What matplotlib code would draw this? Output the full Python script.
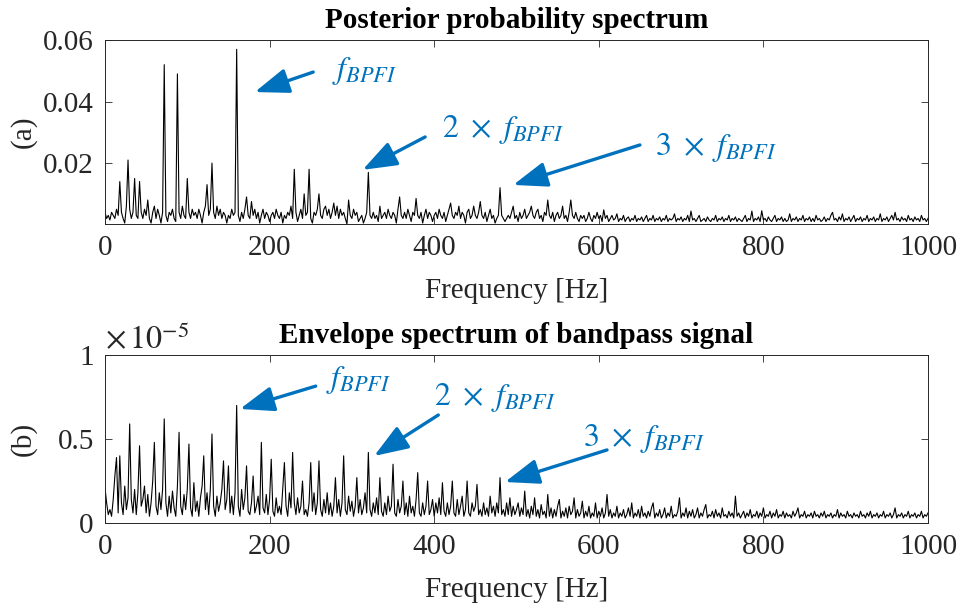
import numpy as np
import matplotlib.pyplot as plt
from matplotlib.ticker import FuncFormatter

# spectra, 2 Hz steps from 0 to 1000 Hz
freq_step = 2.0

# posterior probability spectrum, in units of 1e-3
posterior_milli = [
    4, 2, 3, 1.5, 4, 3, 2, 5, 3, 14,
    4, 2, 0.5, 6, 21, 5, 2, 4, 15, 3,
    2, 14, 4, 2, 5, 3, 8, 2, 0.5, 4,
    6, 2, 5, 3, 0.5, 4, 52, 3, 1, 4,
    3, 5, 2, 1, 49, 4, 2, 6, 3, 2,
    15, 4, 2, 5, 3, 4, 2, 5, 3, 0.5,
    4, 6, 13, 3, 5, 20, 4, 2, 6, 3,
    5, 2, 4, 3, 0.5, 3, 2, 5, 3, 4,
    57, 3, 1, 4, 2, 5, 9, 3, 2, 7.5,
    3, 5, 2, 4, 0.5, 3, 5, 2, 4, 3,
    1, 3, 4, 2, 5, 3, 2, 4, 0.5, 3,
    2, 4, 3, 6, 2, 18, 4, 1, 3, 5,
    2, 10, 3, 4, 18, 2, 0.5, 4, 3, 5,
    10, 3, 2, 5, 6, 3, 5, 2, 4, 7,
    3, 6, 2, 5, 3, 4, 2, 0.2, 8, 3,
    2, 5, 3, 4, 1, 2, 3, 0.5, 2, 4,
    17, 3, 2, 4, 2, 3, 1, 6, 2, 3,
    4, 2, 5, 3, 2, 4, 3, 0.5, 5, 9,
    3, 2, 4, 2, 5, 3, 1, 4, 3, 8.5,
    3, 2, 4, 0.5, 3, 5, 2, 4, 3, 1,
    3, 4, 2, 5, 3, 2, 4, 1, 3, 5,
    7, 3, 2, 4, 3, 6, 2, 4, 3, 0.5,
    4, 5, 2, 3, 6, 3, 2, 4, 7.5, 3,
    2, 4, 1, 3, 5, 2, 3, 0.5, 2, 3,
    12, 3, 2, 1, 2, 3, 2, 4, 6, 2,
    3, 1, 4, 2, 3, 5, 2, 3, 4, 6,
    3, 2, 4, 5, 2, 3, 1, 4, 3, 8,
    3, 2, 4, 1, 3, 4, 2, 3, 6, 2,
    3, 1, 4, 8, 3, 2, 4, 2, 1, 3,
    2, 3, 1, 2, 4, 2, 1, 3, 2, 4,
    2, 3, 1, 4.8, 2, 3, 1, 2, 3, 1.5,
    2, 3.5, 1, 2, 1.5, 3, 1, 2, 2.5, 1,
    2, 1.5, 3, 1, 2, 1.5, 2.5, 1, 2, 3,
    1, 2, 1.5, 3, 1, 2, 1.5, 2.5, 1, 2,
    1.5, 3, 1, 2, 1.5, 2, 3.5, 1, 2, 1.5,
    2.5, 1, 2, 1.5, 3, 1, 4.4, 1.5, 2, 1,
    2, 3, 1, 1.5, 2, 1, 2.5, 1.5, 1, 2,
    1.5, 3, 1, 2, 1.5, 2.5, 1, 2, 1.5, 3,
    1, 2, 1.5, 2.5, 1, 2, 1.5, 1, 2, 3,
    1, 2, 1.5, 4.4, 1, 2, 1.5, 2.5, 1, 4.5,
    1.5, 2, 1, 2.5, 1.5, 1, 2, 3, 1, 2,
    1.5, 2.5, 1, 2, 1, 1.5, 3.5, 1, 2, 1.5,
    2.5, 1, 2, 1.5, 3, 1, 2, 1.5, 2.5, 1,
    2, 1, 3, 1.5, 2, 1, 1.5, 2.5, 1, 2,
    1.5, 3, 4, 1.5, 2, 1, 2.5, 1.5, 3.5, 1,
    2, 1.5, 2.5, 1, 2, 3, 1, 2, 1.5, 2.5,
    1, 2, 1.5, 3, 1, 2, 1.5, 2.5, 1, 2,
    1.5, 3.5, 1, 2, 1.5, 2.5, 1, 2, 3, 1.5,
    4, 1.5, 2, 1, 2.5, 1.5, 2, 1, 3, 1.5,
    2, 1, 2.5, 1.5, 2, 1, 3, 1.5, 2, 1,
    2,
]

# envelope spectrum of the bandpass signal, in units of 1e-7
envelope_e7 = [
    21, 12, 5, 8, 4, 14, 28, 39, 6, 40,
    12, 5, 22, 8, 15, 59, 14, 6, 20, 5,
    18, 46, 10, 14, 22, 6, 17, 4, 12, 25,
    48, 10, 5, 18, 8, 20, 62, 12, 4, 16,
    6, 19, 9, 4, 22, 54, 10, 5, 17, 8,
    20, 47, 9, 4, 24, 7, 13, 4, 15, 22,
    40, 8, 18, 5, 20, 53, 10, 4, 16, 7,
    12, 20, 37, 8, 14, 34, 6, 16, 5, 18,
    70, 10, 4, 20, 8, 15, 34, 7, 5, 12,
    28, 6, 10, 16, 5, 48, 9, 6, 17, 5,
    14, 38, 7, 4, 15, 6, 10, 5, 20, 36,
    10, 4, 18, 9, 42, 12, 5, 15, 6, 10,
    25, 5, 8, 4, 12, 36, 7, 18, 5, 12,
    37, 8, 4, 14, 6, 18, 5, 12, 4, 10,
    27, 6, 14, 4, 12, 40, 8, 5, 16, 7,
    13, 4, 10, 27, 6, 14, 5, 9, 18, 6,
    42, 8, 4, 12, 6, 15, 5, 27, 7, 4,
    12, 5, 16, 7, 10, 35, 6, 4, 14, 6,
    10, 25, 5, 12, 4, 16, 6, 10, 4, 14,
    30, 6, 4, 12, 5, 10, 25, 5, 8, 14,
    4, 12, 6, 15, 5, 24, 7, 4, 12, 5,
    10, 25, 6, 4, 14, 5, 10, 16, 4, 8,
    25, 6, 4, 12, 7, 10, 23, 5, 8, 4,
    12, 5, 9, 4, 16, 6, 10, 4, 12, 6,
    27, 5, 8, 4, 12, 5, 15, 4, 10, 5,
    8, 12, 4, 9, 5, 19, 4, 8, 3, 10,
    5, 15, 4, 8, 3, 11, 5, 7, 3, 17,
    4, 9, 3, 8, 4, 10, 14, 3, 7, 4,
    9, 3, 10, 5, 7, 15, 3, 8, 4, 6,
    13, 3, 7, 4, 10, 3, 6, 4, 12, 3,
    7, 4, 9, 3, 6, 17, 4, 8, 3, 6,
    4, 10, 3, 6, 4, 8, 3, 5, 9, 4,
    12, 3, 6, 4, 8, 3, 10, 4, 6, 3,
    7, 4, 9, 12, 3, 6, 4, 8, 3, 5,
    9, 3, 6, 4, 10, 3, 5, 4, 7, 15,
    3, 6, 4, 9, 3, 7, 4, 8, 3, 5,
    9, 3, 6, 4, 8, 11, 3, 5, 4, 7,
    3, 8, 4, 6, 3, 9, 4, 5, 3, 7,
    4, 6, 3, 16, 4, 6, 3, 5, 7, 3,
    6, 4, 8, 3, 5, 4, 7, 3, 6, 4,
    9, 3, 5, 4, 7, 3, 6, 4, 8, 3,
    5, 4, 7, 3, 6, 4, 5, 3, 7, 4,
    6, 9, 3, 5, 4, 7, 3, 5, 4, 6,
    3, 7, 4, 5, 3, 6, 4, 7, 3, 5,
    4, 6, 3, 5, 4, 8, 3, 6, 4, 5,
    3, 7, 4, 5, 3, 6, 4, 5, 3, 7,
    4, 5, 3, 6, 4, 7, 3, 5, 4, 6,
    3, 5, 4, 7, 3, 5, 4, 6, 3, 5,
    9, 3, 5, 4, 6, 3, 5, 4, 7, 3,
    5, 4, 6, 3, 5, 4, 7, 3, 5, 4,
    6,
]

# annotation labels and where they sit: (text, text_xy, arrow_tail, arrow_head)
top_notes = [
    (r'$f_{BPFI}$', (276, 0.0500), (253, 0.0496), (182, 0.0431)),
    (r'$2\ \times\ f_{BPFI}$', (410, 0.0310), (389, 0.0285), (313, 0.0178)),
    (r'$3\ \times\ f_{BPFI}$', (668, 0.0250), (650, 0.0259), (496, 0.0129)),
]
bottom_notes = [
    (r'$f_{BPFI}$', (268, 0.850e-5), (256, 0.815e-5), (164, 0.679e-5)),
    (r'$2\ \times\ f_{BPFI}$', (400, 0.745e-5), (405, 0.643e-5), (327, 0.399e-5)),
    (r'$3\ \times\ f_{BPFI}$', (581, 0.505e-5), (610, 0.435e-5), (486, 0.244e-5)),
]

blue = '#0072BD'
axis_grey = '#262626'
font_size = 21

plt.rcParams['font.family'] = ['Liberation Serif', 'DejaVu Serif']
plt.rcParams['mathtext.fontset'] = 'stix'


def style_axes(ax, panel):
    ax.tick_params(direction='in', top=True, right=True, length=5,
                   width=0.6, colors=axis_grey, labelsize=font_size, pad=8)
    for sp in ax.spines.values():
        sp.set_color(axis_grey)
        sp.set_linewidth(0.7)
    ax.set_xlim(0, 1000)
    ax.set_xticks([0, 200, 400, 600, 800, 1000])
    ax.set_xlabel('Frequency [Hz]', fontsize=font_size, color=axis_grey,
                  labelpad=12)
    ax.set_ylabel(panel, fontsize=font_size, color=axis_grey)
    ax.yaxis.set_label_coords(-0.083, 0.5)


def add_notes(ax, notes):
    for label, txy, tail, head in notes:
        ax.annotate('', xy=head, xytext=tail,
                    arrowprops=dict(arrowstyle='-|>,head_length=0.95,head_width=0.35',
                                    color=blue, lw=2.4, shrinkA=0, shrinkB=0,
                                    mutation_scale=22))
        ax.text(txy[0], txy[1], label, color=blue, fontsize=23,
                ha='left', va='center')


freqs = np.arange(len(posterior_milli)) * freq_step
posterior = np.array(posterior_milli) * 1e-3
envelope = np.array(envelope_e7) * 1e-7

fig = plt.figure(figsize=(9.57, 6.13), dpi=100)
ax1 = fig.add_axes([0.1097, 0.6346, 0.860, 0.300])
ax2 = fig.add_axes([0.1097, 0.1468, 0.860, 0.274])

ax1.plot(freqs, posterior, color='k', lw=0.8)
style_axes(ax1, '(a)')
ax1.set_ylim(posterior.min(), 0.06)
ax1.set_yticks([0.02, 0.04, 0.06])
ax1.set_yticklabels(['0.02', '0.04', '0.06'])
ax1.set_title('Posterior probability spectrum', fontsize=font_size,
              fontweight='bold', pad=9)
add_notes(ax1, top_notes)

ax2.plot(freqs, envelope, color='k', lw=0.8)
style_axes(ax2, '(b)')
ax2.set_ylim(0, 1e-5)
ax2.set_yticks([0, 0.5e-5, 1e-5])
ax2.yaxis.set_major_formatter(FuncFormatter(lambda v, pos: f'{v * 1e5:g}'))
ax2.set_title('Envelope spectrum of bandpass signal', fontsize=font_size,
              fontweight='bold', pad=9)
ax2.text(0, 1.0, r'$\times\,10^{-5}$', transform=ax2.transAxes,
         fontsize=23, color=axis_grey, ha='left', va='bottom')
add_notes(ax2, bottom_notes)

fig.savefig('out.png', dpi=100)
